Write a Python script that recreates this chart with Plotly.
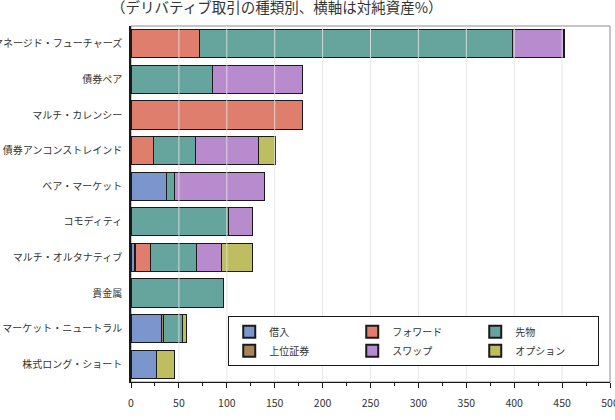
import plotly.graph_objects as go

categories = [
    "マネージド・フューチャーズ",
    "債券ペア",
    "マルチ・カレンシー",
    "債券アンコンストレインド",
    "ベア・マーケット",
    "コモディティ",
    "マルチ・オルタナティブ",
    "貴金属",
    "マーケット・ニュートラル",
    "株式ロング・ショート",
]

# stacking order: 借入, 上位証券, フォワード, 先物, スワップ, オプション
borrow  = [0,    0,    0,     0.5,  37,  0,    4,    0,    31.5, 26.5]
senior  = [0,    0,    0,     0,    0,   0,    0.8,  0,    2.2,  0]
forward = [71,   0,    178.5, 22.5, 0,   0,    16,   0,    0,    0]
futures = [327.5, 85.5, 0,    44,   8.5, 101.5, 47.5, 96.5, 20.5, 0]
swap    = [52.5, 94,   0,     66.5, 93.5, 25.5, 26,  0,    0,    0]
option  = [1.5,  0,    0,     17,   0,   0,    32.5, 0,    3.5,  19]

series_names = ["借入", "上位証券", "フォワード", "先物", "スワップ", "オプション"]
series_values = [borrow, senior, forward, futures, swap, option]
series_colors = ["#7B96CC", "#A8845C", "#E07E6E", "#66A59D", "#B78BCE", "#BEBE60"]
legend_ranks = [1, 4, 2, 3, 5, 6]

x_ticks = [0, 50, 100, 150, 200, 250, 300, 350, 400, 450, 500]
title_text = "（デリバティブ取引の種類別、横軸は対純資産%）"

FONT = "Noto Sans CJK JP"

fig = go.Figure()
for name, vals, col, rank in zip(series_names, series_values, series_colors, legend_ranks):
    fig.add_trace(go.Bar(
        y=categories, x=vals, name=name, orientation="h",
        marker=dict(color=col, line=dict(color="#1a1a1a", width=1)),
        legendrank=rank,
    ))

# gridlines drawn over bars (light, as in the reference)
for t in x_ticks[1:-1]:
    fig.add_shape(type="line", xref="x", yref="paper", x0=t, x1=t, y0=0, y1=1,
                  line=dict(color="rgba(228,228,228,0.85)", width=1), layer="above")

# plot frame (top/right gray)
fig.add_shape(type="rect", xref="paper", yref="paper", x0=0, x1=1, y0=0, y1=1,
              line=dict(color="#8c8c8c", width=1), layer="below")

fig.add_annotation(text=title_text, xref="paper", yref="paper",
                   x=0.303, y=1.056, xanchor="center", yanchor="middle",
                   showarrow=False, font=dict(size=14.5, color="#333333", family=FONT))

fig.update_layout(
    width=615, height=420,
    margin=dict(l=131, r=5, t=26, b=38, autoexpand=False),
    barmode="stack", bargap=0.21,
    plot_bgcolor="white", paper_bgcolor="white",
    font=dict(family=FONT, size=10, color="#333333"),
    showlegend=True,
    legend=dict(
        orientation="h", x=0.203, y=0.185, xanchor="left", yanchor="top",
        bgcolor="white", bordercolor="#1a1a1a", borderwidth=1,
        entrywidth=78, entrywidthmode="pixels",
        font=dict(size=10, color="#333333", family=FONT),
        traceorder="normal", tracegroupgap=0, itemsizing="constant",
    ),
    xaxis=dict(
        range=[0, 500], tickvals=x_ticks, ticktext=[str(v) for v in x_ticks],
        showgrid=False, zeroline=False, automargin=False,
        showline=True, linecolor="#1a1a1a", linewidth=1,
        ticks="outside", ticklen=5, tickcolor="#1a1a1a", ticklabelstandoff=6,
        ticklabeloverflow="allow",
        minor=dict(dtick=25, ticks="outside", ticklen=3, tickcolor="#1a1a1a", showgrid=False),
        tickfont=dict(size=10.5, color="#333333"), fixedrange=True,
    ),
    yaxis=dict(
        categoryorder="array", categoryarray=categories[::-1],
        showgrid=False, zeroline=False, automargin=False,
        showline=True, linecolor="#1a1a1a", linewidth=1.5,
        ticks="", ticklabelstandoff=5,
        tickfont=dict(size=10, color="#333333"), fixedrange=True,
    ),
)

fig.write_html("out.html")
